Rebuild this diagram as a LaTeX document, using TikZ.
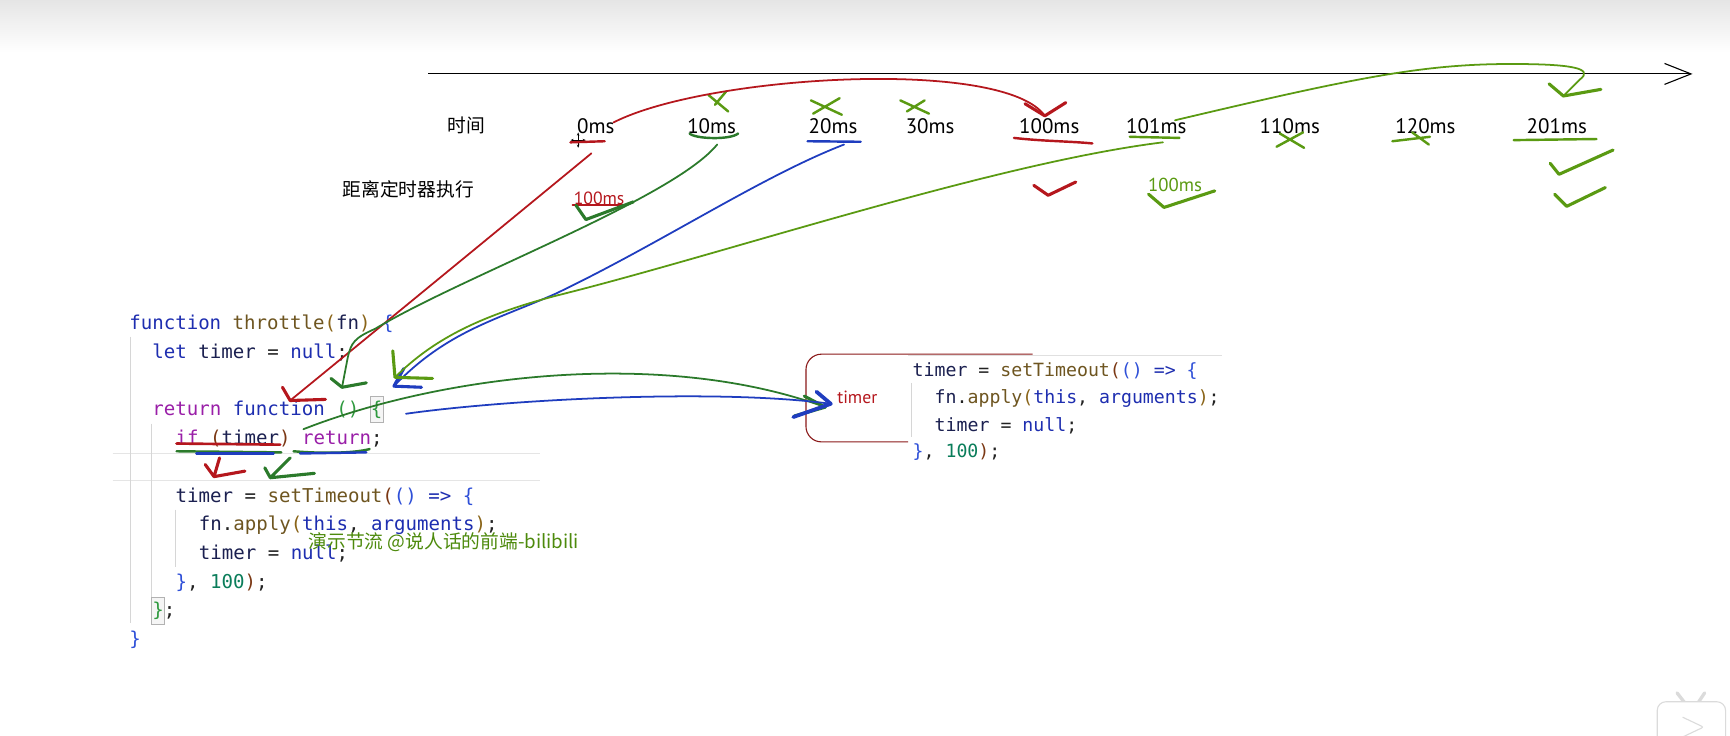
\documentclass[tikz,border=0pt]{standalone}
\usepackage{fontspec}
\setmonofont{DejaVu Sans Mono}
\newfontfamily\handfont{PT Sans}
\newfontfamily\cjkfont{Noto Sans CJK SC}
\usetikzlibrary{arrows.meta}

% code colours
\definecolor{kwblue}{HTML}{1E2EB0}
\definecolor{ctlpurple}{HTML}{9A1FA8}
\definecolor{fnbrown}{HTML}{6E5520}
\definecolor{varnavy}{HTML}{1B2050}
\definecolor{numgreen}{HTML}{0A7D5A}
\definecolor{brgold}{HTML}{8A6418}
\definecolor{brblue}{HTML}{2F50D8}
\definecolor{brgreen}{HTML}{2F9A3F}
\definecolor{brbrown}{HTML}{7B3814}
\definecolor{codedark}{HTML}{222222}
% pen colours
\definecolor{penred}{HTML}{B5171D}
\definecolor{pengreen}{HTML}{2B7A2B}
\definecolor{penolive}{HTML}{5A9A12}
\definecolor{penblue}{HTML}{1F3DBF}
\definecolor{boxred}{HTML}{8B1A1A}
\definecolor{wmolive}{HTML}{4D8A0C}

\newcommand{\ckw}[1]{\textcolor{kwblue}{#1}}
\newcommand{\cctl}[1]{\textcolor{ctlpurple}{#1}}
\newcommand{\cfn}[1]{\textcolor{fnbrown}{#1}}
\newcommand{\cvar}[1]{\textcolor{varnavy}{#1}}
\newcommand{\cnum}[1]{\textcolor{numgreen}{#1}}
\newcommand{\cbr}[2]{\textcolor{#1}{#2}}

\begin{document}
\begin{tikzpicture}[
    x=1pt, y=-1pt,
    pen/.style={line width=1.6pt, line cap=round, line join=round},
    thickpen/.style={line width=2.8pt, line cap=round, line join=round},
    xmark/.style={line width=2.2pt, line cap=round, draw=penolive},
    tlabel/.style={font=\handfont\fontsize{19}{19}\selectfont, inner sep=0pt, text=black},
    cjklabel/.style={font=\cjkfont\fontsize{17}{17}\selectfont, inner sep=0pt},
    codeline/.style={font=\ttfamily\fontsize{17.3}{26}\selectfont, inner sep=0pt,
                     anchor=base west, text=codedark},
    snipline/.style={codeline, font=\ttfamily\fontsize{16.5}{25}\selectfont},
    guide/.style={draw=black!16, line width=0.8pt},
    bracebox/.style={draw=black!30, fill=black!4, line width=0.6pt},
]
\useasboundingbox (0,0) rectangle (1568,667);
\fill[white] (0,0) rectangle (1568,667);
\shade[top color=black!10, bottom color=white] (0,0) rectangle (1568,48);

% --- editor lines and guides ---
\draw[guide, draw=black!10] (102,411) -- (489,411) (102,435) -- (489,435);
\draw[guide] (118,305) -- (118,565);
\draw[guide] (137.5,384) -- (137.5,565);
\draw[guide] (158.6,462) -- (158.6,514);
\draw[bracebox] (336,359) rectangle (347,383);
\draw[bracebox] (137.5,541) rectangle (148.5,566);

% --- code ---
\node[codeline] (c1)  at (117,299) {\ckw{function} \cfn{throttle}\cbr{brgold}{(}\cvar{fn}\cbr{brgold}{)} \cbr{brblue}{\{}};
\node[codeline] (c2)  at (138,325) {\ckw{let} \cvar{timer} = \ckw{null};};
\node[codeline] (c3)  at (138,377) {\cctl{return} \ckw{function} \cbr{brgreen}{()} \cbr{brgreen}{\{}};
\node[codeline] (c4)  at (159,403) {\cctl{if} \cbr{brbrown}{(}\cvar{timer}\cbr{brbrown}{)} \cctl{return};};
\node[codeline] (c5)  at (159,455) {\cvar{timer} = \cfn{setTimeout}\cbr{brbrown}{(}\cbr{brblue}{()} \ckw{=>} \cbr{brblue}{\{}};
\node[codeline] (c6)  at (180,481) {\cvar{fn}.\cfn{apply}\cbr{brgold}{(}\ckw{this}, \ckw{arguments}\cbr{brgold}{)};};
\node[codeline] (c7)  at (180,507) {\cvar{timer} = \ckw{null};};
\node[codeline] (c8)  at (159,533) {\cbr{brblue}{\}}, \cnum{100}\cbr{brbrown}{)};};
\node[codeline] (c9)  at (138,559) {\cbr{brgreen}{\}};};
\node[codeline] (c10) at (117,585) {\cbr{brblue}{\}}};

\node[font=\cjkfont\fontsize{17}{17}\selectfont, text=wmolive, inner sep=0pt, anchor=west]
    (wm) at (279.5,491) {演示节流 @说人话的前端-bilibili};

% --- pasted snippet with the timer box ---
\draw[black!12, line width=0.8pt] (823,322) -- (1108,322);
\draw[guide] (826,347) -- (826,396);
\node[snipline] (s1) at (827,341) {\cvar{timer} = \cfn{setTimeout}\cbr{brbrown}{(}\cbr{brblue}{()} \ckw{=>} \cbr{brblue}{\{}};
\node[snipline] (s2) at (847,366) {\cvar{fn}.\cfn{apply}\cbr{brgold}{(}\ckw{this}, \ckw{arguments}\cbr{brgold}{)};};
\node[snipline] (s3) at (847,391) {\cvar{timer} = \ckw{null};};
\node[snipline] (s4) at (827,415) {\cbr{brblue}{\}}, \cnum{100}\cbr{brbrown}{)};};
\draw[boxred, line width=1pt, rounded corners=14pt] (936,321) -- (730.5,321) -- (730.5,400.5) -- (823,400.5);
\node[tlabel, font=\handfont\fontsize{16}{16}\selectfont, text=penred] (tmr) at (777,360) {timer};

% --- time axis ---
\coordinate (ax0) at (388,67);
\coordinate (ax1) at (1534,67);
\draw[line width=1pt, -{Straight Barb[length=24pt, width=19pt]}] (ax0) -- (ax1);

\node[cjklabel] (when) at (423,114) {时间};
\node[cjklabel] (left) at (370,172) {距离定时器执行};

\node[tlabel] (t0)   at (540,114)  {0ms};
\node[tlabel] (t10)  at (645,114)  {10ms};
\node[tlabel] (t20)  at (755,114)  {20ms};
\node[tlabel] (t30)  at (843,114)  {30ms};
\node[tlabel] (t100) at (951,114)  {100ms};
\node[tlabel] (t101) at (1048,114) {101ms};
\node[tlabel] (t110) at (1169,114) {110ms};
\node[tlabel] (t120) at (1292,114) {120ms};
\node[tlabel] (t201) at (1411,114) {201ms};

\node[tlabel, font=\handfont\fontsize{16}{16}\selectfont, text=penred] (d0)   at (543,180)  {100ms};
\node[tlabel, font=\handfont\fontsize{17}{17}\selectfont, text=penolive] (d101) at (1065,168) {100ms};

% cursor
\draw[line width=0.9pt, {Stealth[length=3pt]}-{Stealth[length=3pt]}] (517,127) -- (531,127);
\draw[line width=0.9pt, {Stealth[length=3pt]}-{Stealth[length=3pt]}] (524,120) -- (524,134);

% --- underlines and marks on the axis ---
\draw[thickpen, penred, line width=2.2pt] (517,129) -- (548,128);
\draw[thickpen, pengreen, line width=2.2pt] (625,121) .. controls (630,126) and (662,127) .. (669,121);
\draw[thickpen, penblue, line width=2.2pt] (732,128) -- (780,128.5);
\draw[thickpen, penred, line width=2.2pt] (919,125) .. controls (945,128) and (970,128) .. (990,130);
\draw[thickpen, penolive, line width=2.2pt] (1024,124) -- (1069,125);
\draw[thickpen, penolive, line width=2.2pt] (1372,127) -- (1447,126);
\draw[thickpen, penred, line width=2pt] (519,186) -- (567,186);

\draw[xmark] (642,86) -- (660,101) (658,83) -- (648,95);
\draw[xmark] (735,91) -- (763,104) (761,89) -- (737,103);
\draw[xmark] (816,91) -- (842,103) (838,91) -- (822,101);
\draw[xmark] (1157,133) -- (1181,120) (1160,121) -- (1182,134);
\draw[xmark] (1262,128) -- (1296,124) (1280,120) -- (1295,131);

\draw[thickpen, pengreen] (522,186) -- (531,199) -- (574,183);
\draw[thickpen, penred] (937,168) -- (950,177) -- (975,165);
\draw[thickpen, penolive] (1041,176) -- (1055,188) -- (1101,173);
\draw[thickpen, penolive] (1405,148) -- (1413,158) -- (1462,136);
\draw[thickpen, penolive] (1409,176) -- (1420,187) -- (1455,170);

% --- arcs along the axis ---
\coordinate (arcR0) at (556,111);
\coordinate (arcR1) at (947,105);
\draw[pen, penred] (arcR0) .. controls (640,68) and (910,52) .. (arcR1);
\draw[thickpen, penred] (929,94) -- (arcR1) -- (966,93);

\coordinate (arcO0) at (1065,109);
\coordinate (arcO1) at (1417,87);
\draw[pen, penolive] (arcO0) .. controls (1230,70) and (1290,58) .. (1370,58)
    .. controls (1425,58) and (1445,62) .. (1432,72) -- (arcO1);
\draw[thickpen, penolive] (1404,76) -- (arcO1) -- (1451,81);

% --- strokes down to the code ---
\coordinate (redtop) at (536,139);
\coordinate (redtip) at (263,363);
\draw[pen, penred] (redtop) .. controls (440,218) and (340,300) .. (redtip);
\draw[thickpen, penred] (256,351) -- (redtip) -- (295,362);

\coordinate (gtop) at (650,131);
\coordinate (gtip) at (310,351);
\draw[pen, pengreen] (gtop) .. controls (610,180) and (420,250) .. (340,298)
    .. controls (322,306) and (318,310) .. (315,325) -- (gtip);
\draw[thickpen, pengreen] (300,343) -- (gtip) -- (332,347);

\coordinate (btop) at (765,131);
\coordinate (btip) at (357,350);
\draw[pen, penblue] (btop) .. controls (690,160) and (600,220) .. (504,266)
    .. controls (450,290) and (405,300) .. (btip);
\draw[thickpen, penblue] (366,334) -- (btip) -- (382,351);

\coordinate (otop) at (1054,129);
\coordinate (otip) at (358,342);
\draw[pen, penolive] (otop) .. controls (900,148) and (650,232) .. (504,268)
    .. controls (440,285) and (395,305) .. (otip);
\draw[thickpen, penolive] (356,318) -- (otip) -- (392,343);

% --- marks on the if line ---
\draw[thickpen, penred, line width=2.4pt] (160,402) -- (254,403);
\draw[thickpen, pengreen, line width=2.2pt] (160,409) -- (255,410);
\draw[thickpen, penblue, line width=2.2pt] (178,411) -- (248,411);
\draw[thickpen, pengreen, line width=2.2pt] (266,409) .. controls (290,411) and (320,411) .. (335,407);
\draw[thickpen, penblue, line width=2.2pt] (272,411) -- (332,410);
\draw[thickpen, penred] (186,421) -- (194,432) -- (222,427) (199,415) -- (194,432);
\draw[thickpen, pengreen] (263,415) -- (245,433) -- (285,429) (240,424) -- (245,433);

% --- strokes into the timer box ---
\coordinate (gif) at (275,389);
\coordinate (gbox) at (748,369);
\draw[pen, pengreen] (gif) .. controls (400,340) and (600,315) .. (gbox);
\draw[thickpen, pengreen] (729,359) -- (gbox) -- (720,377);

\coordinate (bbrace) at (368,375);
\coordinate (bbox) at (753,366);
\draw[pen, penblue] (bbrace) .. controls (460,362) and (650,352) .. (bbox);
\draw[thickpen, penblue, line width=3.4pt] (740,355) -- (bbox) -- (719,378);

% --- player icon ---
\draw[black!14, line width=3pt, line cap=round] (1520,628) -- (1527,637) (1545,628) -- (1539,637);
\draw[black!14, line width=1pt, fill=white, rounded corners=8pt] (1502,636) rectangle (1564,700);
\draw[black!14, line width=1pt, rounded corners=2pt] (1525,650) -- (1544,659) -- (1525,668);

\end{tikzpicture}
\end{document}
